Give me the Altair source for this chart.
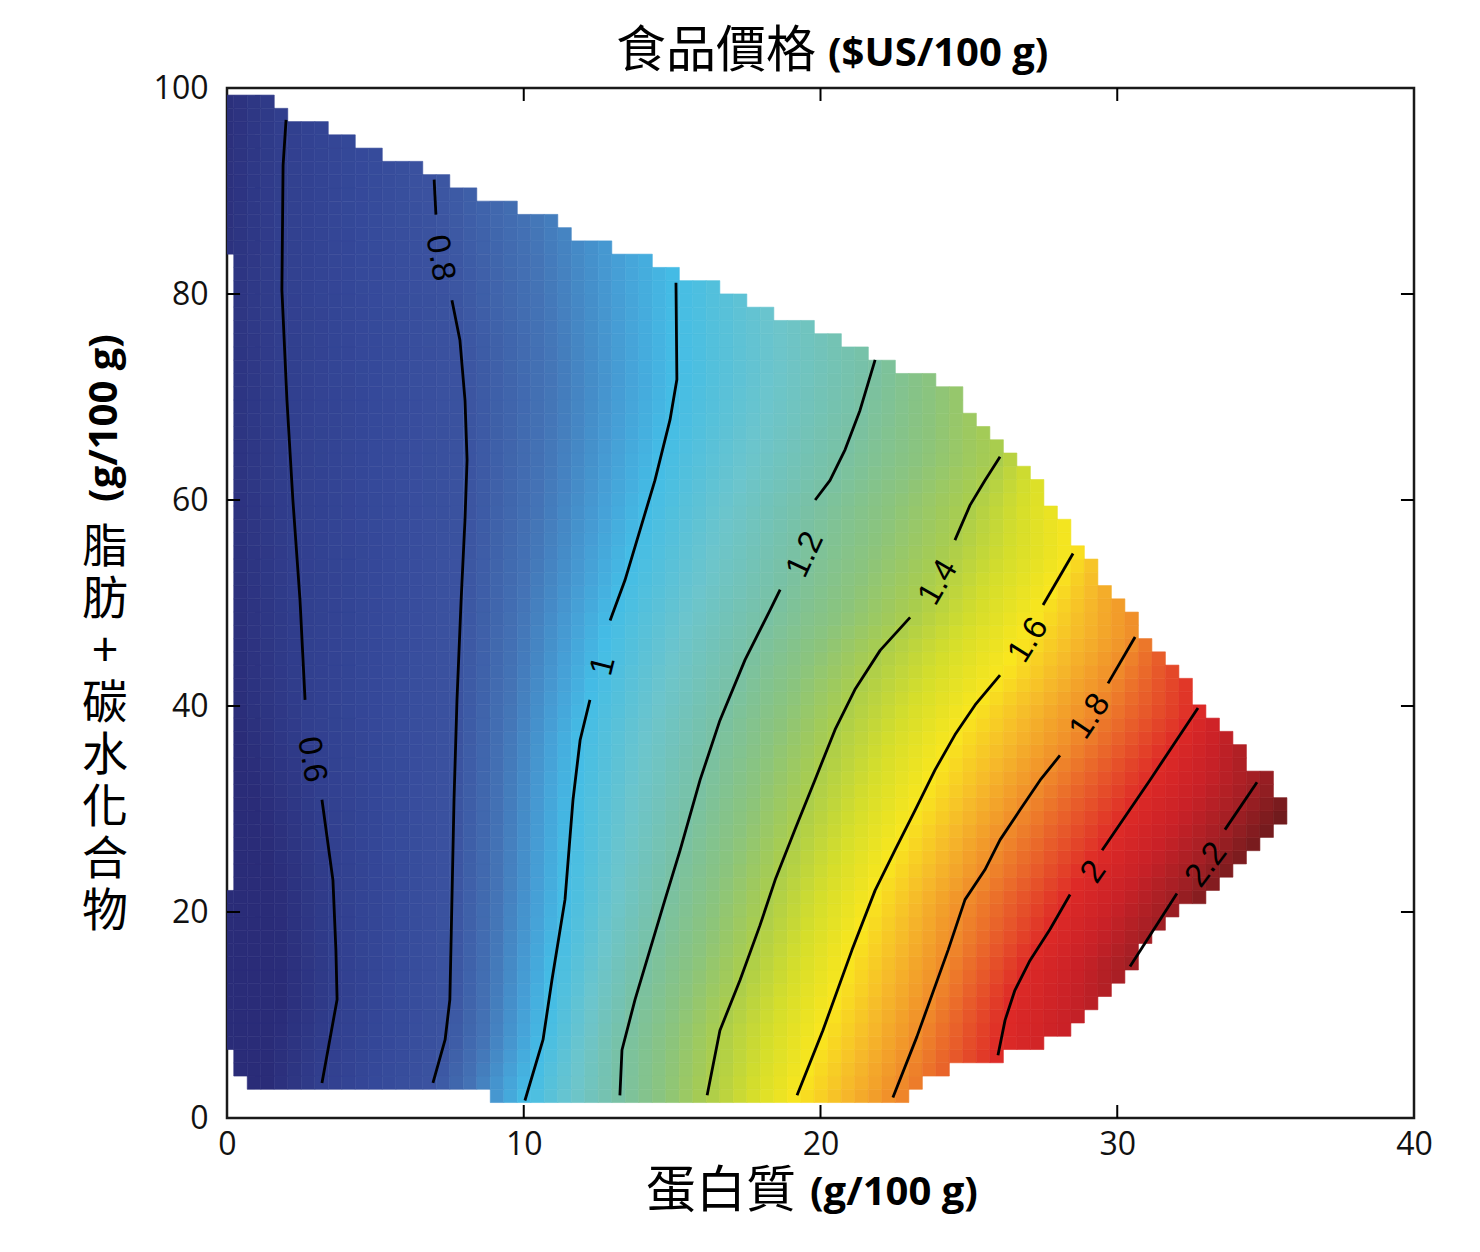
import altair as alt
import numpy as np
import pandas as pd

# ---------------- axes ----------------
X_TICKS = [0, 10, 20, 30, 40]
Y_TICKS = [0, 20, 40, 60, 80, 100]
INNER_X_TICKS = [10, 20, 30]
INNER_Y_TICKS = [20, 40, 60, 80]

# ---------------- contour lines (protein, fat+carb) ----------------
LEVELS = [0.6, 0.8, 1.0, 1.2, 1.4, 1.6, 1.8, 2.0, 2.2]
LEVEL_TEXT = ["0.6", "0.8", "1", "1.2", "1.4", "1.6", "1.8", "2", "2.2"]

C06_X = [1.99, 1.89, 1.85, 2.02, 2.22, 2.46, 2.63, 3.20, 3.57, 3.67, 3.71, 3.20]
C06_Y = [96.9, 92.5, 80.4, 69.7, 60.0, 50.3, 40.6, 30.9, 23.1, 16.3, 11.5, 3.4]
C08_X = [6.98, 7.04, 7.58, 7.85, 8.02, 8.09, 8.02, 7.89, 7.75, 7.65, 7.58, 7.51, 7.35, 6.94]
C08_Y = [91.1, 87.7, 79.4, 75.5, 69.7, 63.9, 58.1, 50.3, 40.6, 30.9, 21.2, 11.5, 7.6, 3.4]
C10_X = [15.13, 15.16, 14.93, 14.42, 13.92, 13.41, 12.91, 12.23, 11.90, 11.66, 11.39, 10.95, 10.65, 10.04]
C10_Y = [81.1, 71.7, 67.8, 61.9, 57.1, 52.2, 48.3, 40.6, 36.7, 30.9, 21.2, 13.4, 7.6, 1.7]
C12_X = [21.84, 21.33, 20.83, 20.32, 19.82, 18.64, 18.30, 17.46, 16.61, 15.94, 15.27, 14.76, 14.25, 13.75, 13.31, 13.24]
C12_Y = [73.6, 68.7, 64.9, 61.9, 60.0, 51.3, 49.3, 44.5, 38.6, 32.8, 26.0, 21.2, 16.3, 11.5, 6.6, 2.2]
C14_X = [26.05, 25.54, 25.04, 24.53, 23.02, 22.01, 21.16, 20.49, 19.81, 19.14, 18.47, 17.96, 17.29, 16.61, 16.18]
C14_Y = [64.2, 61.9, 59.5, 56.1, 48.6, 45.4, 41.6, 37.7, 32.8, 28.0, 23.1, 18.7, 13.4, 8.5, 2.2]
C16_X = [28.51, 27.50, 26.05, 25.21, 24.53, 23.86, 23.19, 22.51, 21.84, 21.06, 20.08, 19.21]
C16_Y = [54.8, 49.8, 43.0, 40.1, 37.2, 33.8, 29.9, 26.0, 22.1, 16.3, 8.5, 2.2]
C18_X = [30.60, 29.69, 28.07, 27.40, 26.72, 26.05, 25.54, 24.87, 24.30, 23.25, 22.44]
C18_Y = [46.7, 42.2, 35.2, 32.8, 29.9, 27.0, 24.1, 21.2, 16.3, 7.9, 2.0]
C20_X = [32.72, 31.10, 29.49, 28.41, 27.73, 27.06, 26.55, 26.22, 25.98]
C20_Y = [39.8, 32.8, 26.0, 21.7, 18.3, 15.3, 12.4, 9.5, 6.1]
C22_X = [34.71, 33.63, 32.01, 30.43]
C22_Y = [32.6, 28.0, 21.8, 14.7]

CONTOUR_X = [C06_X, C08_X, C10_X, C12_X, C14_X, C16_X, C18_X, C20_X, C22_X]
CONTOUR_Y = [C06_Y, C08_Y, C10_Y, C12_Y, C14_Y, C16_Y, C18_Y, C20_Y, C22_Y]
CONTOUR_GAP = [6, 1, 6, 4, 3, 1, 1, 2, 1]   # label gap after this point

LABEL_X = [2.86, 7.18, 12.67, 19.48, 23.96, 27.0, 29.08, 29.2, 33.0]
LABEL_Y = [34.8, 83.5, 43.9, 54.7, 52.0, 46.4, 39.0, 23.9, 24.6]
LABEL_ANGLE = [80, 80, 284, 295, 300, 302, 304, 305, 307]

# ---------------- outline of the data region ----------------
OUTLINE_X = [-0.3, 1.0, 1.6, 2.5, 3.6, 4.75, 5.65, 6.8, 7.8, 8.7, 9.9, 11.1, 12.0, 13.2, 14.3,
             15.2, 16.5, 17.6, 18.5, 19.8, 20.7, 21.5, 22.7, 23.7, 24.3,
             24.7, 25.1, 25.6, 26.0, 26.5, 27.0, 27.9, 28.7, 29.2, 29.7, 30.2, 30.5, 31.0,
             31.5, 31.9, 32.4, 32.8, 33.3, 33.7, 34.2, 34.7, 35.1, 35.6, 35.6,
             35.1, 34.7, 34.2, 33.7, 33.3, 32.8, 32.4, 31.9, 31.5, 31.0, 30.6, 30.2, 29.7,
             29.2, 28.7, 28.0, 27.0, 25.0, 24.0, 23.0, 22.9,
             8.9, 8.9, 0.7, 0.7, 0.25, 0.25, -0.3, -0.3, 0.2, 0.2, -0.3]
OUTLINE_Y = [99.5, 99.3, 98.3, 97.0, 95.7, 94.4, 93.2, 91.9, 90.7, 89.3, 88.0, 87.0, 85.5, 84.4, 83.0,
             81.9, 80.6, 79.2, 77.9, 76.7, 75.4, 74.3, 72.9, 71.7, 71.5,
             70.5, 68.0, 66.8, 65.6, 64.4, 62.9, 59.2, 55.3, 54.0, 51.5, 50.3, 49.3, 46.6,
             45.2, 44.2, 41.7, 40.3, 38.9, 38.0, 35.2, 34.0, 33.0, 30.2, 28.0,
             28.0, 26.7, 25.5, 24.1, 22.8, 21.5, 20.4, 19.2, 18.0, 16.6, 15.3, 14.1, 12.7,
             10.3, 9.0, 7.8, 6.6, 5.3, 4.0, 2.8, 1.4,
             1.4, 2.7, 2.7, 4.0, 4.0, 6.5, 6.5, 21.6, 21.6, 84.5, 84.5]

# ---------------- colour map (price -> colour) ----------------
COLOR_DOMAIN = [0.50, 0.6, 0.7, 0.8, 0.88, 0.95, 1.0, 1.1, 1.2, 1.3, 1.4, 1.5, 1.6, 1.7, 1.8, 1.9, 2.0, 2.1, 2.2, 2.3]
COLOR_RANGE = ["#2a2c78", "#313f8e", "#35499a", "#3b53a0", "#4474b6", "#469fd6", "#44bde6", "#6cc5cc",
               "#79c1a4", "#8bc47d", "#aacd4c", "#d5de2b", "#f9e61e", "#f6b92a", "#f08d2a", "#e85b2a",
               "#de2a27", "#c92127", "#a11f24", "#6a1a1c"]

CELL_W = 0.455
CELL_H = 1.287
ROW0 = 1.5

# ---------------- titles ----------------
TITLE_CJK = "食品價格"
TITLE_UNIT = "($US/100 g)"
XTITLE_CJK = "蛋白質"
XTITLE_UNIT = "(g/100 g)"
YTITLE_CJK = ["脂", "肪", "+", "碳", "水", "化", "合", "物"]
YTITLE_UNIT = "(g/100 g)"


def inside(px, py, xs, ys):
    c = False
    n = len(xs)
    j = n - 1
    for i in range(n):
        xi, yi, xj, yj = xs[i], ys[i], xs[j], ys[j]
        if (yi > py) != (yj > py):
            if px < (xj - xi) * (py - yi) / (yj - yi) + xi:
                c = not c
        j = i
    return c


cells = []
for j in range(78):
    yc = ROW0 + (j + 0.5) * CELL_H
    xs_row = np.array([np.interp(yc, cy[::-1], cx[::-1]) for cx, cy in zip(CONTOUR_X, CONTOUR_Y)])
    for k in range(81):
        xc = k * CELL_W
        if not inside(xc, yc, OUTLINE_X, OUTLINE_Y):
            continue
        if xc < xs_row[0]:
            p = LEVELS[0] - (xs_row[0] - xc) * 0.2 / (xs_row[1] - xs_row[0])
        elif xc > xs_row[-1]:
            p = LEVELS[-1] + (xc - xs_row[-1]) * 0.2 / (xs_row[-1] - xs_row[-2])
        else:
            p = float(np.interp(xc, xs_row, LEVELS))
        cells.append({"x0": xc - CELL_W / 2, "x1": xc + CELL_W / 2,
                      "y0": yc - CELL_H / 2, "y1": yc + CELL_H / 2, "price": p})
cells = pd.DataFrame(cells)

line_rows = []
for li, (cx, cy) in enumerate(zip(CONTOUR_X, CONTOUR_Y)):
    for i, (a, b) in enumerate(zip(cx, cy)):
        seg = 0 if i <= CONTOUR_GAP[li] else 1
        line_rows.append({"lx": a, "ly": b, "key": f"{li}-{seg}", "o": i})
lines = pd.DataFrame(line_rows)

labels = pd.DataFrame({"tx": LABEL_X, "ty": LABEL_Y, "ang": LABEL_ANGLE, "txt": LEVEL_TEXT})

tick_rows = []
for v in INNER_X_TICKS:
    tick_rows.append({"a": v, "b": 0, "a2": v, "b2": 1.26})
    tick_rows.append({"a": v, "b": 100, "a2": v, "b2": 98.74})
for v in INNER_Y_TICKS:
    tick_rows.append({"a": 0, "b": v, "a2": 0.44, "b2": v})
    tick_rows.append({"a": 40, "b": v, "a2": 39.56, "b2": v})
ticks = pd.DataFrame(tick_rows)

XS = alt.Scale(domain=[0, 40], nice=False, zero=False)
YS = alt.Scale(domain=[0, 100], nice=False, zero=False)
XAXIS = alt.Axis(values=X_TICKS, ticks=False, domain=False, grid=False, labelFont="Open Sans",
                 labelFontSize=32, labelColor="#111111", labelPadding=11, title=None, labelFlush=False)
YAXIS = alt.Axis(values=Y_TICKS, ticks=False, domain=False, grid=False, labelFont="Open Sans",
                 labelFontSize=32, labelColor="#111111", labelPadding=19, title=None, labelFlush=False)
CS = alt.Scale(domain=COLOR_DOMAIN, range=COLOR_RANGE, interpolate="rgb", clamp=True)


def X(f):
    return alt.X(f, type="quantitative", scale=XS, axis=XAXIS)


def Y(f):
    return alt.Y(f, type="quantitative", scale=YS, axis=YAXIS)


heat = alt.Chart(cells).mark_rect(clip=True, strokeWidth=0.6).encode(
    x=X("x0"), x2="x1", y=Y("y0"), y2="y1",
    color=alt.Color("price:Q", scale=CS, legend=None),
    stroke=alt.Stroke("price:Q", scale=CS, legend=None),
)

contours = alt.Chart(lines).mark_line(color="#000000", strokeWidth=2.8, strokeJoin="round").encode(
    x=X("lx"), y=Y("ly"), detail="key:N", order="o:Q")

clabels = alt.Chart(labels).mark_text(font="Liberation Sans", fontSize=33, color="#000000",
                                      align="center", baseline="middle").encode(
    x=X("tx"), y=Y("ty"), text="txt:N", angle=alt.Angle("ang:Q", scale=None))

tickmarks = alt.Chart(ticks).mark_rule(color="#000000", strokeWidth=2).encode(
    x=X("a"), x2="a2", y=Y("b"), y2="b2")

one = pd.DataFrame({"d": [0]})
CJK = "Noto Sans CJK TC"
t1 = alt.Chart(one).mark_text(text=TITLE_CJK, font=CJK, fontSize=50, align="right",
                              baseline="alphabetic", color="#000").encode(x=alt.value(589), y=alt.value(-21))
t2 = alt.Chart(one).mark_text(text=TITLE_UNIT, font="Open Sans", fontWeight="bold", fontSize=40,
                              align="left", baseline="alphabetic", color="#000").encode(x=alt.value(601), y=alt.value(-22))
xt1 = alt.Chart(one).mark_text(text=XTITLE_CJK, font=CJK, fontSize=50, align="right",
                               baseline="alphabetic", color="#000").encode(x=alt.value(569), y=alt.value(1119))
xt2 = alt.Chart(one).mark_text(text=XTITLE_UNIT, font="Open Sans", fontWeight="bold", fontSize=40,
                               align="left", baseline="alphabetic", color="#000").encode(x=alt.value(583), y=alt.value(1117))
yt1 = alt.Chart(one).mark_text(text=YTITLE_CJK, font=CJK, fontSize=46,
                               lineHeight=52, align="center", baseline="middle", color="#000").encode(
    x=alt.value(-122), y=alt.value(460))
yt2 = alt.Chart(one).mark_text(text=YTITLE_UNIT, font="Open Sans", fontWeight="bold", fontSize=40,
                               align="center", baseline="middle", angle=270, color="#000").encode(
    x=alt.value(-122), y=alt.value(330))

chart = alt.layer(heat, contours, clabels, tickmarks, t1, t2, xt1, xt2, yt1, yt2).properties(
    width=1187, height=1030,
    autosize=alt.AutoSizeParams(type="none"),
    padding={"left": 227, "top": 88, "right": 66, "bottom": 134},
    background="white",
).configure_view(stroke="#1a1a1a", strokeWidth=2.5)

chart.save("out.html", embed_options={"renderer": "svg", "actions": False})
